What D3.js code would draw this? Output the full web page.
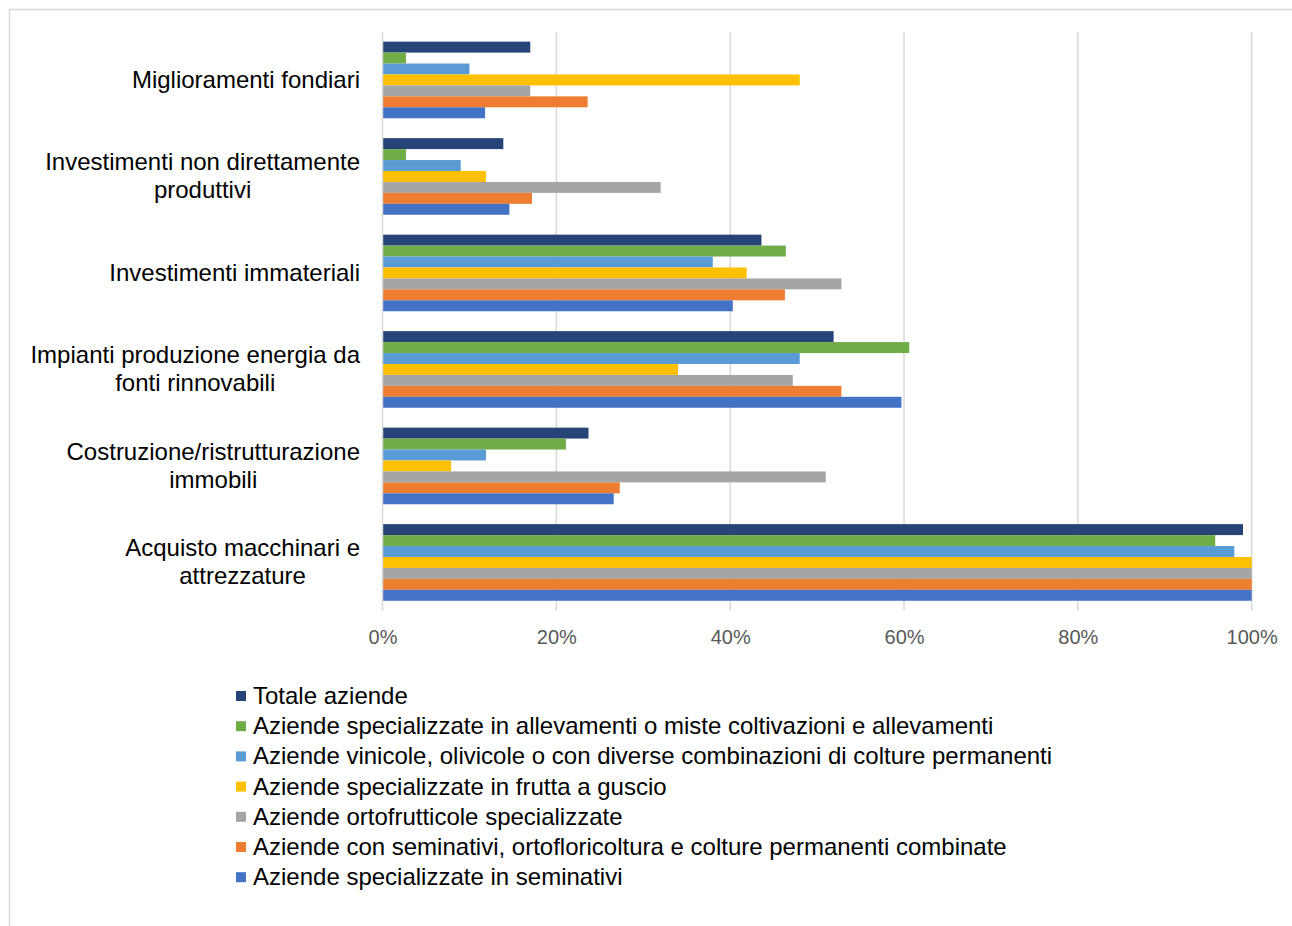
<!DOCTYPE html>
<meta charset="utf-8">
<style>
body { margin: 0; background: #fff; }
svg text { font-family: "Liberation Sans", Arial, sans-serif; }
</style>
<svg width="1292" height="926" id="chart"></svg>
<script src="https://d3js.org/d3.v7.min.js"></script>
<script>
// categories, top to bottom
var categories = [
  "Miglioramenti fondiari",
  "Investimenti non direttamente produttivi",
  "Investimenti immateriali",
  "Impianti produzione energia da fonti rinnovabili",
  "Costruzione/ristrutturazione immobili",
  "Acquisto macchinari e attrezzature"
];
// label lines as drawn
var catLines = [
  ["Miglioramenti fondiari"],
  ["Investimenti non direttamente", "produttivi"],
  ["Investimenti immateriali"],
  ["Impianti produzione energia da", "fonti rinnovabili"],
  ["Costruzione/ristrutturazione", "immobili"],
  ["Acquisto macchinari e", "attrezzature"]
];

var seriesNames = [
  "Totale aziende",
  "Aziende specializzate in allevamenti o miste coltivazioni e allevamenti",
  "Aziende vinicole, olivicole o con diverse combinazioni di colture permanenti",
  "Aziende specializzate in frutta a guscio",
  "Aziende ortofrutticole specializzate",
  "Aziende con seminativi, ortofloricoltura e colture permanenti combinate",
  "Aziende specializzate in seminativi"
];
var seriesColors = ["#264478", "#70AD47", "#5B9BD5", "#FFC000", "#A5A5A5", "#ED7D31", "#4472C4"];

// values (%) per series, in category order
var totale       = [17.0, 13.9, 43.6, 51.9, 23.7, 99.0];
var allevamenti  = [2.7, 2.7, 46.4, 60.6, 21.1, 95.8];
var vinicole     = [10.0, 9.0, 38.0, 48.0, 11.9, 98.0];
var fruttaGuscio = [48.0, 11.9, 41.9, 34.0, 7.9, 100];
var ortofrutt    = [17.0, 32.0, 52.8, 47.2, 51.0, 100];
var seminOrto    = [23.6, 17.2, 46.3, 52.8, 27.3, 100];
var seminativi   = [11.8, 14.6, 40.3, 59.7, 26.6, 100];
var seriesValues = [totale, allevamenti, vinicole, fruttaGuscio, ortofrutt, seminOrto, seminativi];

var ticks = [0, 20, 40, 60, 80, 100];

var svg = d3.select("#chart");

// outer frame
svg.append("rect")
  .attr("x", 9.5).attr("y", 9.5)
  .attr("width", 1300).attr("height", 940)
  .attr("fill", "none").attr("stroke", "#d9d9d9").attr("stroke-width", 1.5);

var plotLeft = 382.5, plotRight = 1251.7, plotTop = 31.7, plotBottom = 610.7;

var x = d3.scaleLinear().domain([0, 100]).range([plotLeft, plotRight]);
var y0 = d3.scaleBand().domain(categories).range([plotTop, plotBottom]).paddingInner(0.206).paddingOuter(0.103);
var y1 = d3.scaleBand().domain(d3.range(seriesNames.length)).range([0, y0.bandwidth()]);

// gridlines
svg.append("g")
  .selectAll("line")
  .data(ticks.slice(1))
  .join("line")
  .attr("x1", d => x(d)).attr("x2", d => x(d))
  .attr("y1", plotTop).attr("y2", plotBottom)
  .attr("stroke", "#d9d9d9").attr("stroke-width", 1.5);

// bars
var groups = svg.append("g")
  .selectAll("g")
  .data(categories)
  .join("g")
  .attr("transform", d => "translate(0," + y0(d) + ")");

groups.selectAll("rect")
  .data((c, ci) => seriesValues.map((vals, si) => ({ s: si, v: vals[ci] })))
  .join("rect")
  .attr("x", x(0))
  .attr("y", d => y1(d.s))
  .attr("width", d => x(d.v) - x(0))
  .attr("height", y1.bandwidth())
  .attr("fill", d => seriesColors[d.s]);

// vertical axis line
svg.append("line")
  .attr("x1", plotLeft).attr("x2", plotLeft)
  .attr("y1", plotTop).attr("y2", plotBottom)
  .attr("stroke", "#d9d9d9").attr("stroke-width", 1.5);

// x axis tick labels
var xAxis = svg.append("g")
  .attr("transform", "translate(0," + plotBottom + ")")
  .call(d3.axisBottom(x).tickValues(ticks).tickFormat(d => d + "%").tickSize(0).tickPadding(19));
xAxis.select(".domain").remove();
xAxis.selectAll("text")
  .attr("font-family", "Liberation Sans, Arial, sans-serif")
  .attr("fill", "#595959")
  .style("font-size", "20px");

// category labels: block right-aligned at 360, lines centred inside it
var catG = svg.append("g");
categories.forEach(function(c, i) {
  var lines = catLines[i];
  var cy = y0(c) + y0.bandwidth() / 2;
  var lh = 28;
  var t = catG.append("text")
    .attr("text-anchor", "middle")
    .attr("font-size", 24)
    .attr("fill", "#000");
  var spans = lines.map(function(l, j) {
    return t.append("tspan")
      .attr("y", cy + (j - (lines.length - 1) / 2) * lh + 8)
      .text(l);
  });
  var maxW = d3.max(spans, s => s.node().getComputedTextLength());
  spans.forEach(s => s.attr("x", 360 - maxW / 2));
});

// legend
var legend = svg.append("g")
  .selectAll("g")
  .data(seriesNames)
  .join("g")
  .attr("transform", (d, i) => "translate(236," + (696 + i * 30.2) + ")");
legend.append("rect")
  .attr("x", 0).attr("y", -5)
  .attr("width", 10).attr("height", 10)
  .attr("fill", (d, i) => seriesColors[i]);
legend.append("text")
  .attr("x", 17).attr("y", 8)
  .attr("font-size", 24)
  .attr("fill", "#000")
  .text(d => d);
</script>
